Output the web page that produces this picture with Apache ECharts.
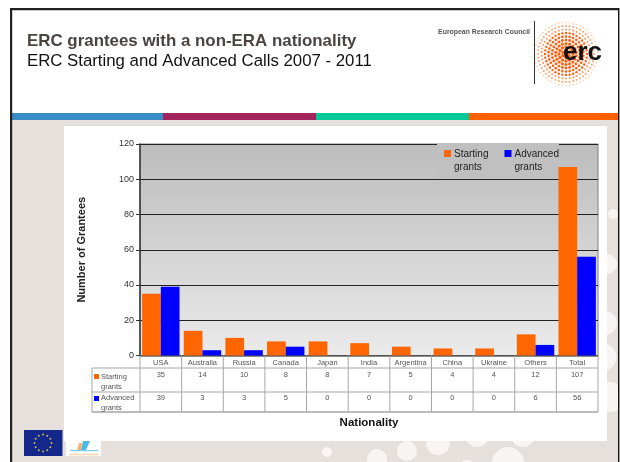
<!DOCTYPE html>
<html><head><meta charset="utf-8">
<style>html,body{margin:0;padding:0;background:#fff}#c{width:620px;height:462px}</style>
<script src="https://cdn.jsdelivr.net/npm/echarts@6/dist/echarts.min.js"></script>
</head><body><div id="c"></div>
<script>
const categories = ['USA','Australia','Russia','Canada','Japan','India','Argentina','China','Ukraine','Others','Total'];
const startingGrants = [35,14,10,8,8,7,5,4,4,12,107];
const advancedGrants = [39,3,3,5,0,0,0,0,0,6,56];
const seriesNames = ['Starting grants','Advanced grants'];
const titleBold = 'ERC grantees with a non-ERA nationality';
const titleLine2 = 'ERC Starting and Advanced Calls 2007 - 2011';
const bandColors = ['#3a8cc9','#a3235c','#05c998','#ff6100'];
const pageCircles = [[613,214,5],[607,264,10],[605,323,12],[603,357,13.5],[610,397,15],[327,452,5],[377,459,10],[407,451,10],[438,443,12],[477,435,12],[523,435,12],[508,463,16],[467,468,8]];
const FONT = '"Liberation Sans", Arial, sans-serif';
const ORANGE = '#ff6600', BLUE = '#0000ff';

const chart = echarts.init(document.getElementById('c'), null, {renderer:'canvas'});
const GL = 140, GT = 144, GR = 598, GB = 355.5;

chart.setOption({
  animation:false,
  backgroundColor:'#ffffff',
  textStyle:{fontFamily:FONT},
  grid:{left:GL, top:GT, width:GR-GL, height:GB-GT, show:true, borderColor:'#808080', borderWidth:1,
    backgroundColor:new echarts.graphic.LinearGradient(0,0,0,1,[{offset:0,color:'#bcbcbc'},{offset:1,color:'#ebebeb'}])},
  legend:{left:437, top:144, width:129, height:36, padding:[3,0,5,7], itemGap:16, itemWidth:7, itemHeight:27, z:1,
    selectedMode:false, backgroundColor:'#c0c0c0', orient:'horizontal',
    icon:'path://M0 3H7V10H0Z M0 0L0 0 M0 27L0 27',
    formatter:n=>n.replace(' ','\n'),
    textStyle:{fontSize:10, lineHeight:13.5, color:'#222', fontFamily:FONT, padding:[0,0,0,-2]}},
  xAxis:{type:'category', data:categories, name:'Nationality', nameLocation:'middle', nameGap:61,
    nameTextStyle:{fontSize:11.5, fontWeight:'bold', color:'#111', fontFamily:FONT},
    axisLine:{lineStyle:{color:'#666', width:1.5}}, axisTick:{show:false}, splitLine:{show:false},
    axisLabel:{fontSize:7.5, color:'#555', margin:3, interval:0, fontFamily:FONT}},
  yAxis:{type:'value', min:0, max:120, interval:20, name:'Number of Grantees', nameLocation:'middle', nameGap:53,
    nameTextStyle:{fontSize:11, fontWeight:'bold', color:'#222', fontFamily:FONT},
    axisLine:{show:true, lineStyle:{color:'#333', width:1.5}},
    axisTick:{show:true, length:4, lineStyle:{color:'#333'}},
    axisLabel:{fontSize:9, color:'#333', margin:6, fontFamily:FONT},
    splitLine:{show:true, lineStyle:{color:'#222', width:1}}},
  series:[
    {name:seriesNames[0], type:'bar', data:startingGrants, barWidth:18.7, barGap:'0%', itemStyle:{color:ORANGE}},
    {name:seriesNames[1], type:'bar', data:advancedGrants, barWidth:18.7, barGap:'0%', itemStyle:{color:BLUE}}
  ]
});

function txt(x,y,s,o){return {type:'text',z:(o&&o.z)||20,silent:true,style:Object.assign({x,y,text:s,fontFamily:FONT,fill:'#555',fontSize:7.5,align:'center',verticalAlign:'middle'},o&&o.style)};}
function ln(x1,y1,x2,y2,c,w,z){return {type:'line',z:z||20,silent:true,shape:{x1,y1,x2,y2},style:{stroke:c,lineWidth:w||1}};}
function rc(x,y,w,h,c,z){return {type:'rect',z:z===undefined?-10:z,silent:true,shape:{x,y,width:w,height:h},style:{fill:c}};}
function cc(x,y,r,c,z){return {type:'circle',z:z===undefined?-9:z,silent:true,shape:{cx:x,cy:y,r},style:{fill:c}};}

const g = [];
// page background and frame
g.push(rc(11,120,607,342,'#e5e0dc',-10));
pageCircles.forEach(p=>g.push(cc(p[0],p[1],p[2],'#f7f4f2',-9)));
g.push(rc(64,126,543,315,'#ffffff',-8));
g.push(rc(10,8,609,2.2,'#222',15));
g.push(rc(10,8,2.2,454,'#222',15));
g.push(rc(618,8,1.4,454,'#111',15));
// colour band
const bx=[12,163,316,469,618];
bandColors.forEach((c,i)=>g.push(rc(bx[i],113,bx[i+1]-bx[i],7,c,5)));
// header text
g.push(txt(27,41,titleBold,{style:{fontSize:16.9,fontWeight:'bold',fill:'#4b4440',align:'left'}}));
g.push(txt(27,61,titleLine2,{style:{fontSize:16.8,fill:'#111',align:'left'}}));
g.push(txt(530,32,'European Research Council',{style:{fontSize:6.9,fontWeight:'bold',fill:'#555',align:'right'}}));
g.push(ln(534.5,21,534.5,84,'#333',1));
// logo dots in concentric rings
for(let ring=1;ring<=9;ring++){
  const R=ring*3.5, n=Math.round(ring*6);
  for(let k=0;k<n;k++){
    const a=(k+ring*0.5)/n*Math.PI*2;
    const col=ring>8?'#ffc9a8':(ring>6?'#ff9a60':'#ff5f10');
    g.push(cc(566+R*Math.cos(a),54+R*Math.sin(a),Math.max(0.7,1.9-ring*0.12),col,6));
  }
}
g.push(txt(582.5,53,'erc',{style:{fontSize:26,fontWeight:'bold',fill:'#111',align:'center'},z:8}));
// flag and partner logo
g.push(rc(24,430,38.5,26,'#14288c',6));
for(let k=0;k<12;k++){const a=k/12*Math.PI*2;g.push(cc(43+8.5*Math.cos(a),443+8.5*Math.sin(a),1,'#c9b94a',7));}
g.push(rc(66,441,35,15,'#ffffff',6));
g.push({type:'polygon',z:7,silent:true,shape:{points:[[79,443],[82,443],[81,450],[77,450]]},style:{fill:'#f4b36c'}});
g.push({type:'polygon',z:7,silent:true,shape:{points:[[83,441],[90,441],[86,450],[81,450]]},style:{fill:'#4db8e8'}});
g.push(rc(70,450,28,1.2,'#7fcdee',7));
g.push(rc(69,453.5,30,2,'#fbdcbc',7));
// data table
const YT=[368,392,412], XL=92;
const colW=(GR-GL)/categories.length;
const colC=categories.map((_,i)=>chart.convertToPixel({xAxisIndex:0},i));
const LC='#a6a6a6';
g.push(ln(XL,YT[0],GR,YT[0],LC,1));
g.push(ln(XL,YT[1],GR,YT[1],LC,1));
g.push(ln(XL,YT[2],GR,YT[2],LC,1.3));
g.push(ln(XL,YT[0],XL,YT[2],LC,1));
g.push(ln(GL,GB,GL,YT[2],LC,1));
colC.forEach((c,i)=>{
  g.push(ln(c+colW/2,GB,c+colW/2,YT[2],LC,1));
  g.push(txt(c,375,String(startingGrants[i])));
  g.push(txt(c,398,String(advancedGrants[i])));
});
[[ORANGE,seriesNames[0],374,377,387],[BLUE,seriesNames[1],396,397.5,408]].forEach(r=>{
  g.push(rc(94,r[2],5,5,r[0],20));
  const parts=r[1].split(' ');
  g.push(txt(101,r[3],parts[0],{style:{align:'left'}}));
  g.push(txt(101,r[4],parts[1],{style:{align:'left'}}));
});
chart.setOption({graphic:{elements:g}});
</script></body></html>
